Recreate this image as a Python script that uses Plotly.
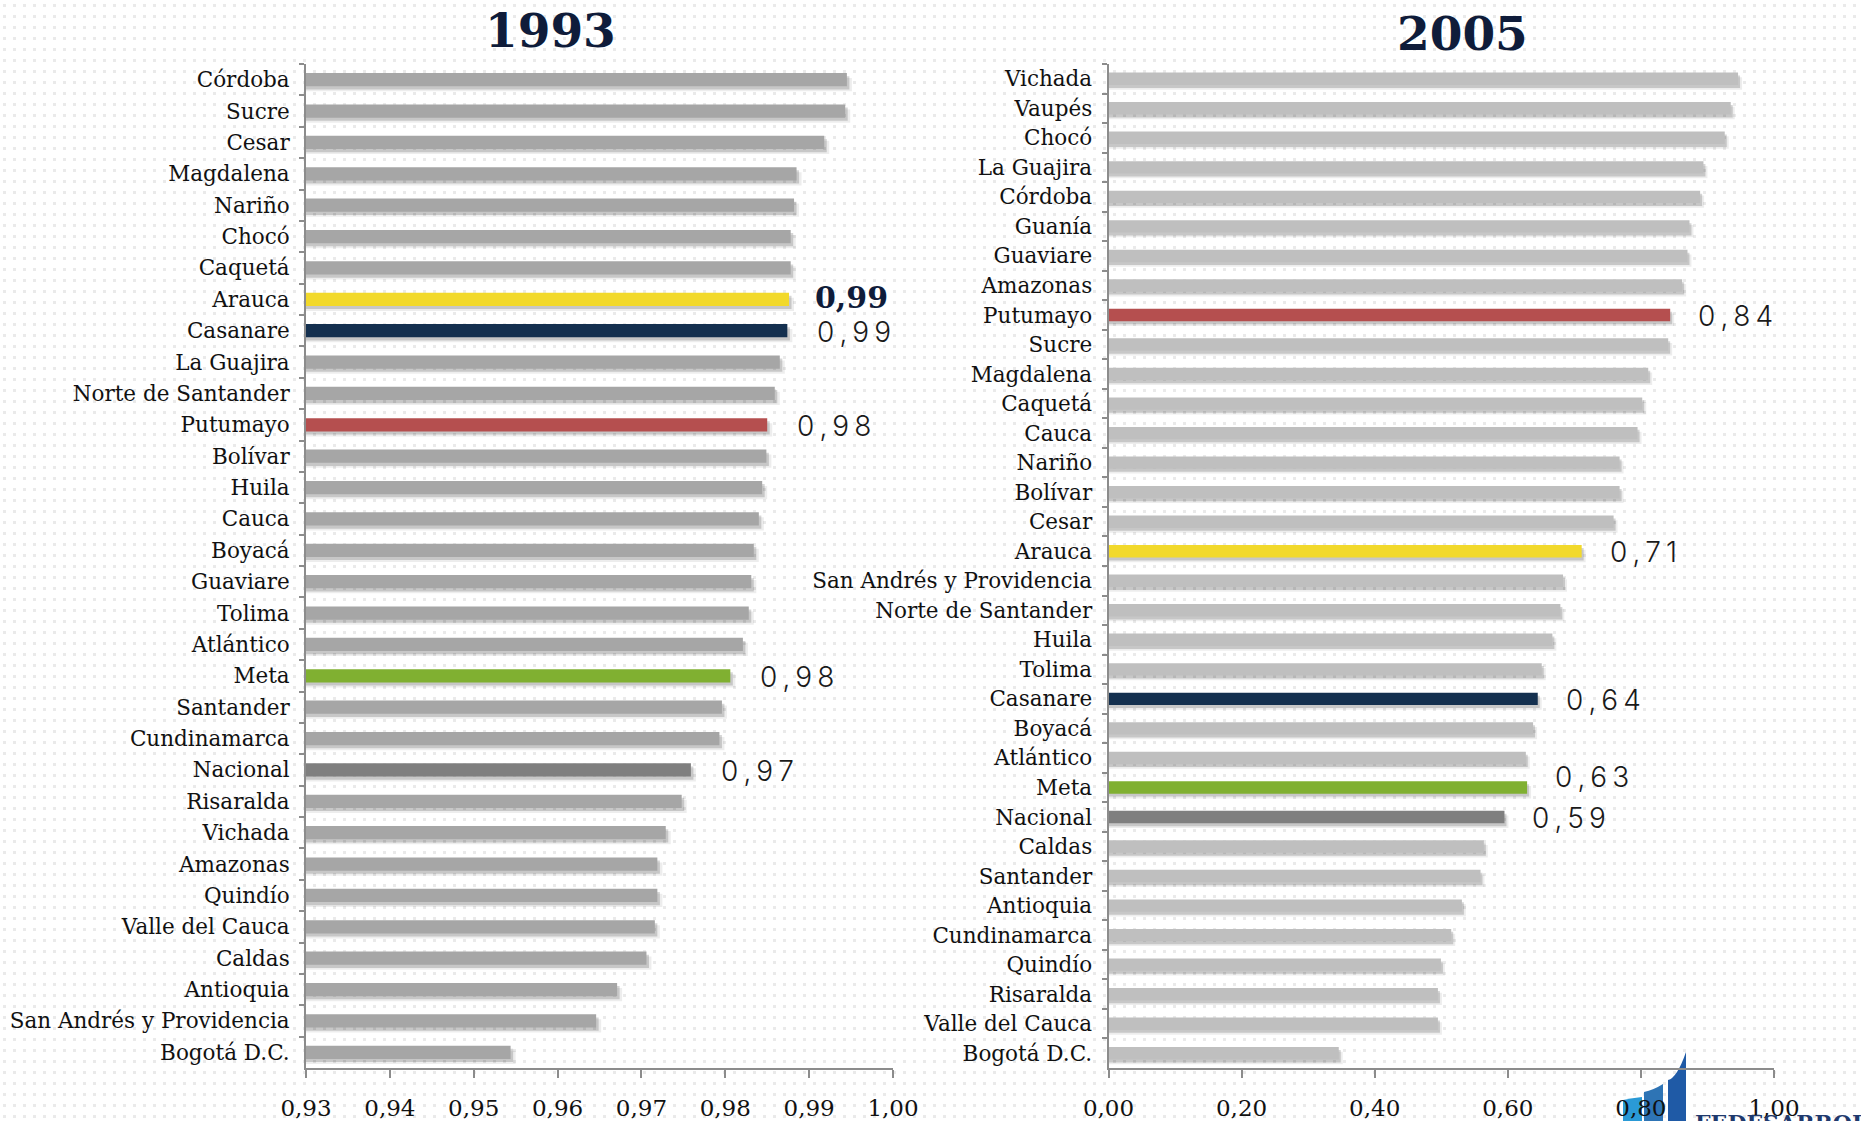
import base64

import plotly.graph_objects as go

# --- data -----------------------------------------------------------------
cats_1993 = ["Córdoba", "Sucre", "Cesar", "Magdalena", "Nariño", "Chocó", "Caquetá",
             "Arauca", "Casanare", "La Guajira", "Norte de Santander", "Putumayo",
             "Bolívar", "Huila", "Cauca", "Boyacá", "Guaviare", "Tolima", "Atlántico",
             "Meta", "Santander", "Cundinamarca", "Nacional", "Risaralda", "Vichada",
             "Amazonas", "Quindío", "Valle del Cauca", "Caldas", "Antioquia",
             "San Andrés y Providencia", "Bogotá D.C."]
vals_1993 = [0.9945, 0.9943, 0.9918, 0.9885, 0.9882, 0.9878, 0.9878,
             0.9876, 0.9874, 0.9865, 0.9859, 0.9850,
             0.9849, 0.9844, 0.9840, 0.9834, 0.9831, 0.9828, 0.9821,
             0.9806, 0.9796, 0.9793, 0.9759, 0.9748, 0.9729,
             0.9719, 0.9719, 0.9716, 0.9706, 0.9671,
             0.9646, 0.9544]

cats_2005 = ["Vichada", "Vaupés", "Chocó", "La Guajira", "Córdoba", "Guanía", "Guaviare",
             "Amazonas", "Putumayo", "Sucre", "Magdalena", "Caquetá", "Cauca", "Nariño",
             "Bolívar", "Cesar", "Arauca", "San Andrés y Providencia", "Norte de Santander",
             "Huila", "Tolima", "Casanare", "Boyacá", "Atlántico", "Meta", "Nacional",
             "Caldas", "Santander", "Antioquia", "Cundinamarca", "Quindío", "Risaralda",
             "Valle del Cauca", "Bogotá D.C."]
vals_2005 = [0.946, 0.935, 0.926, 0.894, 0.889, 0.873, 0.870,
             0.862, 0.844, 0.841, 0.811, 0.802, 0.795, 0.768,
             0.768, 0.759, 0.711, 0.683, 0.679,
             0.667, 0.651, 0.645, 0.638, 0.627, 0.629, 0.595,
             0.564, 0.559, 0.531, 0.515, 0.4995, 0.495,
             0.495, 0.346]

# value labels shown next to highlighted bars
lab_cats_1993 = ["Arauca", "Casanare", "Putumayo", "Meta", "Nacional"]
lab_text_1993 = ["0,99", "0,99", "0,98", "0,98", "0,97"]
lab_cats_2005 = ["Putumayo", "Arauca", "Casanare", "Meta", "Nacional"]
lab_text_2005 = ["0,84", "0,71", "0,64", "0,63", "0,59"]

ticks_1993 = [0.93, 0.94, 0.95, 0.96, 0.97, 0.98, 0.99, 1.00]
ticks_2005 = [0.0, 0.2, 0.4, 0.6, 0.8, 1.0]

HIGHLIGHT = {"Arauca": "#F2D92B", "Casanare": "#14304F", "Putumayo": "#B54F4F",
             "Meta": "#80B031", "Nacional": "#7F7F7F"}

W, H = 1861, 1121
SERIF = "Georgia, 'DejaVu Serif', serif"
THIN = "Inter, Lato, sans-serif"
AXC = "#8c8c8c"
BW = 0.42


def px(x):
    return x / W


def py(y):
    return 1 - y / H


def bar_traces(cats, vals, base_color, xa, ya, ext):
    cols = [HIGHLIGHT.get(c, base_color) for c in cats]
    out = []
    # soft drop shadow under each bar
    for dy, a, k in [(0.16, 0.07, 2.0), (0.10, 0.16, 1.0)]:
        out.append(go.Bar(y=cats, x=[v + ext * k for v in vals], orientation="h",
                          width=BW, offset=-BW / 2 + dy, xaxis=xa, yaxis=ya,
                          marker=dict(color=f"rgba(0,0,0,{a})", line_width=0),
                          hoverinfo="skip", showlegend=False))
    out.append(go.Bar(y=cats, x=vals, orientation="h", width=BW, offset=-BW / 2,
                      xaxis=xa, yaxis=ya, marker=dict(color=cols, line_width=0),
                      hovertemplate="%{y}: %{x:.3f}<extra></extra>", showlegend=False))
    return out


fig = go.Figure()
for t in bar_traces(cats_1993, vals_1993, "#A6A6A6", "x", "y", 0.0003):
    fig.add_trace(t)
for t in bar_traces(cats_2005, vals_2005, "#BFBFBF", "x2", "y2", 0.003):
    fig.add_trace(t)

ydom = [py(1068), py(64)]
common_x = dict(showgrid=False, zeroline=False, showline=True, linecolor=AXC, linewidth=2,
                ticks="outside", ticklen=8, tickwidth=2, tickcolor=AXC, tickformat=".2f",
                tickfont=dict(family=SERIF, size=23, color="#111"), ticklabelstandoff=10,
                automargin=False)
common_y = dict(showgrid=False, zeroline=False, showline=True, linecolor=AXC, linewidth=2,
                ticks="outside", ticklen=5, tickwidth=2, tickcolor=AXC, tickson="boundaries",
                autorange="reversed", type="category", automargin=False,
                tickfont=dict(family=SERIF, size=21.5, color="#111"), ticklabelstandoff=10)

fig.update_layout(
    width=W, height=H, margin=dict(l=0, r=0, t=0, b=0, autoexpand=False),
    paper_bgcolor="white", plot_bgcolor="rgba(0,0,0,0)",
    barmode="overlay", separators=",.",
    xaxis=dict(common_x, domain=[px(306), px(893)], range=[0.93, 1.00],
               tickvals=ticks_1993, anchor="y"),
    yaxis=dict(common_y, domain=ydom, categoryorder="array", categoryarray=cats_1993,
               anchor="x"),
    xaxis2=dict(common_x, domain=[px(1108.5), px(1774)], range=[0, 1.0],
                tickvals=ticks_2005, anchor="y2"),
    yaxis2=dict(common_y, domain=ydom, categoryorder="array", categoryarray=cats_2005,
                anchor="x2"),
)

# titles
for txt, cx, cy in [("1993", 550, 30), ("2005", 1462, 34)]:
    fig.add_annotation(text=f"<b>{txt}</b>", x=px(cx), y=py(cy), xref="paper", yref="paper",
                       xanchor="center", yanchor="middle", showarrow=False,
                       font=dict(family=SERIF, size=47, color="#0F1C3A"))


def spaced(s):
    return "\u2009".join(s)


v93 = dict(zip(cats_1993, vals_1993))
for c, t in zip(lab_cats_1993, lab_text_1993):
    if c == "Arauca":
        fig.add_annotation(text=f"<b>{t}</b>", x=v93[c], y=c, xref="x", yref="y",
                           xanchor="left", xshift=24, yshift=2, showarrow=False,
                           font=dict(family=SERIF, size=30, color="#0F1C3A"))
    else:
        fig.add_annotation(text=spaced(t), x=v93[c], y=c, xref="x", yref="y",
                           xanchor="left", xshift=28, yshift=-1, showarrow=False,
                           font=dict(family=THIN, size=28, color="#1a1a1a", weight=300))

v05 = dict(zip(cats_2005, vals_2005))
for c, t in zip(lab_cats_2005, lab_text_2005):
    fig.add_annotation(text=spaced(t), x=v05[c], y=c, xref="x2", yref="y2",
                       xanchor="left", xshift=26, yshift=10 if c == "Meta" else -1,
                       showarrow=False,
                       font=dict(family=THIN, size=28, color="#1a1a1a", weight=300))

# dotted backdrop
svg = (f'<svg xmlns="http://www.w3.org/2000/svg" width="{W}" height="{H}">'
       '<defs><pattern id="d" width="10" height="11" patternUnits="userSpaceOnUse">'
       '<rect x="3" y="4" width="3" height="3" fill="#EAEAEA"/></pattern></defs>'
       f'<rect width="{W}" height="{H}" fill="url(#d)"/></svg>')
fig.add_layout_image(source="data:image/svg+xml;base64," + base64.b64encode(svg.encode()).decode(),
                     xref="paper", yref="paper", x=0, y=1, sizex=1, sizey=1,
                     xanchor="left", yanchor="top", sizing="stretch", layer="below")

# partial logo in the bottom right corner (behind the tick labels)
logo = [("#2A9AD6", 1623, 1642, 1100, 1097), ("#2E74B5", 1644, 1663, 1092, 1084),
        ("#1F5AA6", 1668, 1686, 1080, 1052)]
for col, x0, x1, yl, yr in logo:
    path = (f"M {px(x0)},{py(H)} L {px(x0)},{py(yl)} "
            f"Q {px((x0 + x1) / 2)},{py(yl - 2)} {px(x1)},{py(yr)} L {px(x1)},{py(H)} Z")
    fig.add_shape(type="path", path=path, xref="paper", yref="paper",
                  fillcolor=col, line_width=0, layer="below")
fig.add_annotation(text="<b>FEDESARROLLO</b>", x=px(1694), y=py(1109), xref="paper",
                   yref="paper", xanchor="left", yanchor="top", showarrow=False,
                   borderpad=0, font=dict(family=SERIF, size=22, color="#1F3A6E"))

fig.write_html("out.html", config={"displayModeBar": False},
               post_script="document.body.style.margin='0';")
